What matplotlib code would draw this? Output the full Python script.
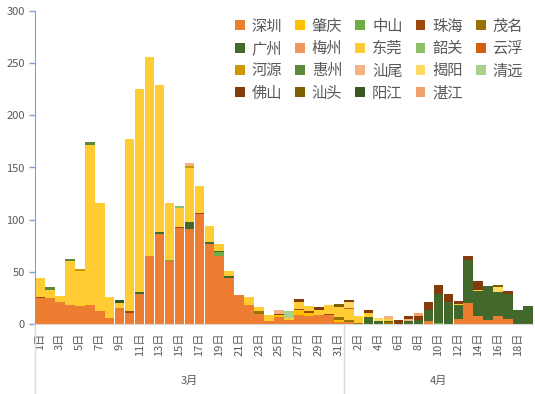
import matplotlib
matplotlib.use('Agg')
import matplotlib.pyplot as plt
import numpy as np

plt.rcParams['font.family'] = ['Noto Sans CJK SC', 'DejaVu Sans']

# categories: 3月1日..31日, 4月1日..19日
march_days = list(range(1, 32))
april_days = list(range(1, 20))
months = ['3月', '4月']

# daily cases per city (March 1-31, then April 1-19)
shenzhen = [25, 25, 21, 18, 17, 18, 12, 6, 15, 11, 29, 65, 86, 60, 92, 91, 105, 77, 65, 44,
            28, 18, 10, 3, 7, 4, 9, 8, 9, 9, 2,
            2, 0, 0, 0, 0, 0, 0, 0, 3, 0, 0, 5, 20, 8, 4, 8, 5, 0, 0]
zhaoqing = [0, 0, 0, 0, 0, 0, 0, 0, 0, 0, 0, 0, 0, 0, 0, 0, 0, 0, 0, 0,
            0, 0, 0, 0, 2, 0, 4, 3, 0, 0, 2,
            0, 0, 0, 0, 0, 0, 0, 0, 0, 0, 0, 0, 0, 0, 0, 0, 0, 0, 0]
zhongshan = [0, 0, 0, 0, 0, 0, 0, 0, 0, 0, 0, 0, 0, 1, 0, 0, 0, 0, 4, 0,
             0, 0, 0, 0, 0, 0, 0, 0, 0, 0, 0,
             0, 0, 0, 0, 0, 0, 0, 0, 0, 1, 0, 0, 0, 0, 0, 0, 0, 0, 0]
zhuhai = [1, 0, 0, 0, 0, 0, 0, 0, 0, 1, 0, 0, 0, 0, 1, 0, 1, 0, 0, 0,
          0, 0, 0, 0, 1, 0, 1, 1, 0, 1, 0,
          0, 0, 0, 0, 0, 0, 0, 0, 0, 0, 0, 0, 0, 0, 0, 0, 0, 0, 0]
maoming = [0, 0, 0, 0, 0, 0, 0, 0, 0, 0, 0, 0, 0, 0, 0, 0, 0, 0, 0, 0,
           0, 0, 2, 0, 0, 0, 0, 0, 0, 0, 3,
           2, 1, 0, 0, 2, 0, 0, 0, 0, 0, 0, 0, 0, 0, 0, 0, 0, 0, 0]
guangzhou = [0, 0, 0, 0, 0, 0, 0, 0, 0, 0, 2, 0, 2, 0, 0, 7, 0, 2, 1, 2,
             0, 0, 0, 0, 0, 0, 0, 0, 0, 0, 0,
             0, 0, 7, 3, 1, 0, 3, 4, 10, 28, 21, 13, 41, 24, 32, 23, 24, 13, 17]
meizhou = [0] * 50
dongguan = [18, 8, 6, 42, 34, 154, 104, 20, 5, 165, 194, 191, 141, 55, 18, 52, 26, 15, 7, 5,
            0, 8, 4, 6, 0, 2, 7, 5, 4, 8, 9,
            10, 7, 4, 0, 2, 0, 0, 0, 0, 0, 0, 1, 0, 1, 0, 0, 0, 0, 0]
shaoguan = [0, 0, 0, 0, 0, 0, 0, 0, 0, 0, 0, 0, 0, 0, 2, 0, 0, 0, 0, 0,
            0, 0, 0, 0, 0, 0, 0, 0, 0, 0, 0,
            0, 0, 0, 0, 0, 0, 0, 0, 0, 0, 0, 0, 0, 0, 0, 0, 0, 0, 0]
yunfu = [0, 0, 0, 0, 0, 0, 0, 0, 0, 0, 0, 0, 0, 0, 0, 0, 0, 0, 0, 0,
         0, 0, 0, 0, 0, 0, 0, 0, 0, 0, 0,
         1, 0, 0, 0, 0, 0, 0, 0, 0, 0, 0, 0, 0, 0, 0, 0, 0, 0, 0]
heyuan = [0, 0, 0, 0, 2, 0, 0, 0, 0, 0, 0, 0, 0, 0, 0, 1, 0, 0, 0, 0,
          0, 0, 0, 0, 0, 0, 0, 0, 0, 0, 0,
          0, 0, 0, 0, 0, 0, 0, 0, 0, 0, 0, 0, 0, 0, 0, 0, 0, 0, 0]
huizhou = [0, 2, 0, 2, 0, 2, 0, 0, 0, 0, 0, 0, 0, 0, 0, 0, 0, 0, 0, 0,
           0, 0, 0, 0, 0, 0, 0, 0, 0, 0, 0,
           0, 0, 0, 0, 0, 0, 0, 0, 0, 0, 0, 0, 0, 0, 0, 0, 0, 0, 0]
shanwei = [0, 0, 0, 0, 0, 0, 0, 0, 0, 0, 0, 0, 0, 0, 0, 3, 0, 0, 0, 0,
           0, 0, 0, 0, 3, 0, 0, 0, 0, 0, 0,
           0, 0, 0, 0, 3, 0, 2, 0, 0, 0, 0, 0, 0, 0, 0, 0, 0, 0, 0]
jieyang = [0, 0, 0, 0, 0, 0, 0, 0, 0, 0, 0, 0, 0, 0, 0, 0, 0, 0, 0, 0,
           0, 0, 0, 0, 0, 0, 0, 0, 0, 0, 0,
           6, 0, 0, 3, 0, 0, 0, 0, 0, 0, 0, 0, 0, 0, 0, 4, 0, 0, 0]
qingyuan = [0, 0, 0, 0, 0, 0, 0, 0, 0, 0, 0, 0, 0, 0, 0, 0, 0, 0, 0, 0,
            0, 0, 0, 0, 0, 6, 0, 0, 0, 0, 0,
            0, 0, 0, 0, 0, 0, 0, 0, 0, 0, 0, 0, 0, 0, 0, 0, 0, 0, 0]
foshan = [0, 0, 0, 0, 0, 0, 0, 0, 0, 0, 0, 0, 0, 0, 0, 0, 0, 0, 0, 0,
          0, 0, 0, 0, 0, 0, 3, 0, 3, 0, 0,
          2, 0, 2, 0, 0, 4, 3, 4, 8, 8, 8, 3, 4, 8, 0, 0, 3, 0, 0]
shantou = [0, 0, 0, 0, 0, 0, 0, 0, 0, 0, 0, 0, 0, 0, 0, 0, 0, 0, 0, 0,
           0, 0, 0, 0, 0, 0, 0, 0, 0, 0, 3,
           0, 0, 0, 0, 0, 0, 0, 0, 0, 0, 0, 0, 0, 0, 0, 2, 0, 0, 0]
yangjiang = [0, 0, 0, 0, 0, 0, 0, 0, 3, 0, 0, 0, 0, 0, 0, 0, 0, 0, 0, 0,
             0, 0, 0, 0, 0, 0, 0, 0, 0, 0, 0,
             0, 0, 0, 0, 0, 0, 0, 0, 0, 0, 0, 0, 0, 0, 0, 0, 0, 0, 0]
zhanjiang = [0, 0, 0, 0, 0, 0, 0, 0, 0, 0, 0, 0, 0, 0, 0, 0, 0, 0, 0, 0,
             0, 0, 0, 0, 0, 0, 0, 0, 0, 0, 0,
             0, 0, 0, 0, 0, 0, 0, 3, 0, 0, 0, 0, 0, 0, 0, 0, 0, 0, 0]

cities = ['深圳', '肇庆', '中山', '珠海', '茂名', '广州', '梅州', '东莞', '韶关', '云浮',
          '河源', '惠州', '汕尾', '揭阳', '清远', '佛山', '汕头', '阳江', '湛江']
series = [shenzhen, zhaoqing, zhongshan, zhuhai, maoming, guangzhou, meizhou, dongguan,
          shaoguan, yunfu, heyuan, huizhou, shanwei, jieyang, qingyuan, foshan, shantou,
          yangjiang, zhanjiang]
colors = ['#ED7D31', '#FFC000', '#70AD47', '#9E480E', '#997300', '#43682B', '#F1975A',
          '#FFCD33', '#8CC168', '#D26012', '#CC9A00', '#5A8A39', '#F4B183', '#FFD966',
          '#A9D18E', '#843C0C', '#7F6000', '#385723', '#F2A26E']

n = len(march_days) + len(april_days)
x = np.arange(n)

fig = plt.figure(figsize=(5.35, 3.94), dpi=100)
ax = fig.add_axes([35 / 535, 1 - 324 / 394, (533 - 35) / 535, (324 - 11) / 394])

bottom = np.zeros(n)
handles = []
for name, vals, col in zip(cities, series, colors):
    vals = np.array(vals, dtype=float)
    h = ax.bar(x, vals, bottom=bottom, width=0.96, color=col, label=name, linewidth=0)
    handles.append(h)
    bottom += vals

ax.set_xlim(-0.5, n - 0.5)
ax.set_ylim(0, 300)
ax.set_yticks(range(0, 301, 50))
ax.tick_params(axis='y', colors='#7F9FD5', labelcolor='#595959', labelsize=8, length=4, width=1)

labels = [f'{d}日' for d in march_days] + [f'{d}日' for d in april_days]
ax.set_xticks(x[::2])
ax.set_xticklabels(labels[::2], rotation=90, fontsize=8, color='#595959')
ax.tick_params(axis='x', length=0, pad=6)

for s in ['top', 'right']:
    ax.spines[s].set_visible(False)
ax.spines['left'].set_color('#7F9FD5')
ax.spines['bottom'].set_color('#D9D9D9')

# month group labels and separators below the axis
trans = ax.get_xaxis_transform()
depth = -(394 - 324) / 313
for xs in [-0.5, len(march_days) - 0.5]:
    ax.plot([xs, xs], [0, depth], transform=trans, color='#D9D9D9', lw=1, clip_on=False)
mid_mar = (len(march_days) - 1) / 2
mid_apr = len(march_days) + (len(april_days) - 1) / 2
for xm, m in zip([mid_mar, mid_apr], months):
    ax.text(xm, -(381 - 324) / 313, m, transform=trans, ha='center', va='center',
            fontsize=8, color='#595959')

# legend filled row by row (matplotlib fills columns, so reorder)
ncol = 5
order = [i for c in range(ncol) for i in range(c, len(cities), ncol)]
ax.legend([handles[i] for i in order], [cities[i] for i in order],
          ncol=ncol, loc='upper left', bbox_to_anchor=(227 / 535, 1 - 10 / 394),
          bbox_transform=fig.transFigure, frameon=False, fontsize=11,
          handlelength=0.65, handleheight=0.65, handletextpad=0.45,
          columnspacing=0.85, labelspacing=0.35, borderpad=0, labelcolor='#595959')

fig.savefig('out.png', dpi=100, facecolor='white')
